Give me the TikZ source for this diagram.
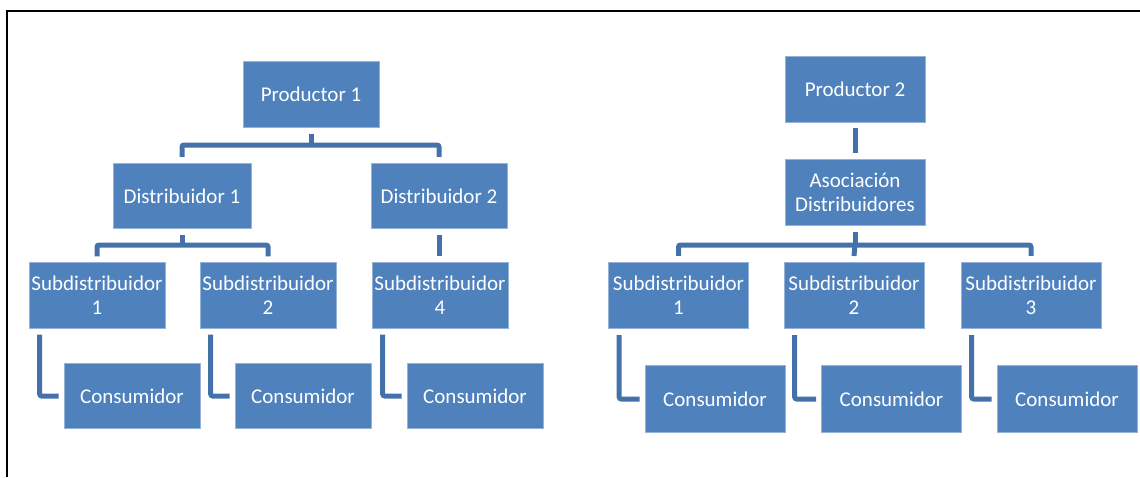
\documentclass[tikz,border=0pt]{standalone}
\usepackage{fontspec}
\setmainfont{Carlito}
\definecolor{boxblue}{HTML}{4F81BD}
\definecolor{lineblue}{HTML}{4571AA}
\begin{document}
\begin{tikzpicture}[x=1pt,y=-1pt,
  box/.style={fill=boxblue, draw=boxblue!60!white, line width=0.6pt, text=white, inner sep=0pt,
    align=center, font=\fontsize{21}{24}\selectfont},
  bl/.style={box, minimum width=136pt, minimum height=65.5pt},
  br/.style={box, minimum width=140pt, minimum height=66.5pt},
  conn/.style={draw=lineblue, line width=5pt, rounded corners=2pt}]
\useasboundingbox (0,0) rectangle (1140,477);
\draw[line width=2pt] (7,477) -- (7,11) -- (1140,11);

% left tree
\node[bl] (P1) at (311,94.5) {Productor 1};
\node[bl, minimum width=138pt] (D1) at (182,196) {Distribuidor 1};
\node[bl] (D2) at (439,196) {Distribuidor 2};
\node[bl] (S1) at (97,295.5) {Subdistribuidor\\1};
\node[bl] (S2) at (268,295.5) {Subdistribuidor\\2};
\node[bl] (S4) at (440,295.5) {Subdistribuidor\\4};
\node[bl] (C1) at (132,396) {Consumidor};
\node[bl] (C2) at (303,396) {Consumidor};
\node[bl] (C4) at (475,396) {Consumidor};

\coordinate (b1) at (311,145);
\coordinate (b2) at (182,245);
\draw[conn] ([yshift=-6pt]P1.south) -- (P1.south |- b1);
\draw[conn] ([yshift=6pt]D1.north) |- (b1) -| ([yshift=6pt]D2.north);
\draw[conn] ([yshift=-6pt]D1.south) -- (D1.south |- b2);
\draw[conn] ([yshift=6pt]S1.north) |- (b2) -| ([yshift=6pt]S2.north);
\draw[conn] ([yshift=-6pt]D2.south) -- ([yshift=6pt]D2.south |- S4.north);
\draw[conn] ([xshift=11pt,yshift=-6pt]S1.south west) |- ([xshift=-5pt]C1.west);
\draw[conn] ([xshift=11pt,yshift=-6pt]S2.south west) |- ([xshift=-5pt]C2.west);
\draw[conn] ([xshift=11pt,yshift=-6pt]S4.south west) |- ([xshift=-5pt]C4.west);

% right tree
\node[br] (P2) at (855,89.5) {Productor 2};
\node[br] (A) at (855,192.5) {Asociación\\Distribuidores};
\node[br] (R1) at (678.5,295.5) {Subdistribuidor\\1};
\node[br] (R2) at (854,295.5) {Subdistribuidor\\2};
\node[br] (R3) at (1031,295.5) {Subdistribuidor\\3};
\node[br] (RC1) at (715,399) {Consumidor};
\node[br] (RC2) at (891.5,399) {Consumidor};
\node[br] (RC3) at (1067,399) {Consumidor};

\coordinate (b3) at (855,245);
\draw[conn] ([yshift=-5pt]P2.south) -- ([yshift=6pt]A.north);
\draw[conn] ([yshift=-6pt]A.south) -- (b3);
\draw[conn] ([yshift=6pt]R1.north) |- (b3) -| ([yshift=6pt]R3.north);
\draw[conn] (b3) -- ([yshift=6pt]R2.north);
\draw[conn] ([xshift=11pt,yshift=-6pt]R1.south west) |- ([xshift=-5pt]RC1.west);
\draw[conn] ([xshift=11pt,yshift=-6pt]R2.south west) |- ([xshift=-5pt]RC2.west);
\draw[conn] ([xshift=11pt,yshift=-6pt]R3.south west) |- ([xshift=-5pt]RC3.west);
\end{tikzpicture}
\end{document}
